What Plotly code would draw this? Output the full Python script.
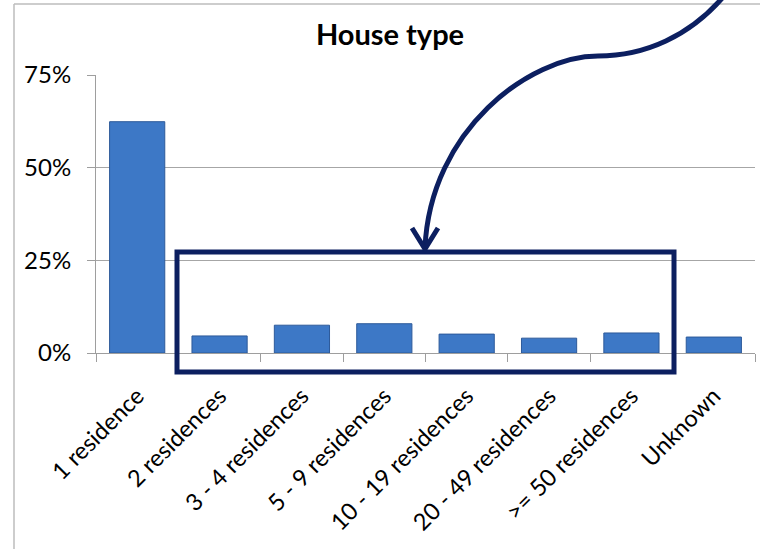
import plotly.graph_objects as go

categories = ["1 residence", "2 residences", "3 - 4 residences", "5 - 9 residences",
              "10 - 19 residences", "20 - 49 residences", ">= 50 residences", "Unknown"]
shares = [62.4, 4.6, 7.5, 7.9, 5.1, 4.0, 5.4, 4.3]
y_ticks = [0, 25, 50, 75]
y_tick_labels = ["0%", "25%", "50%", "75%"]

W, H = 760, 549
ML, MR, MT, MB = 96, 5, 75, 196
PW, PH = W - ML - MR, H - MT - MB

def px(x, y):
    return (x - ML) / PW, (H - MB - y) / PH

def path(cmds):
    out = []
    for c in cmds:
        if isinstance(c, str):
            out.append(c)
        else:
            u, v = px(*c)
            out.append(f"{u:.5f},{v:.5f}")
    return " ".join(out)

FONT = "Lato"
NAVY = "#0c1f60"

fig = go.Figure(go.Bar(
    x=categories, y=shares,
    marker=dict(color="#3d78c6", line=dict(color="#2d5a9a", width=1)),
    width=0.67,
))

shapes = []
# outer chart border
shapes.append(dict(type="line", xref="paper", yref="paper",
                   x0=px(14, 4)[0], y0=px(14, 4)[1], x1=px(14, 560)[0], y1=px(14, 560)[1],
                   line=dict(color="#bdbdbd", width=1.5)))
shapes.append(dict(type="line", xref="paper", yref="paper",
                   x0=px(14, 4)[0], y0=px(14, 4)[1], x1=px(770, 4)[0], y1=px(770, 4)[1],
                   line=dict(color="#bdbdbd", width=1.5)))
# highlight rectangle
r0 = px(177, 252); r1 = px(674, 372)
shapes.append(dict(type="rect", xref="paper", yref="paper",
                   x0=r0[0], y0=r0[1], x1=r1[0], y1=r1[1],
                   line=dict(color=NAVY, width=5)))
# curved arrow
shapes.append(dict(type="path", xref="paper", yref="paper",
                   path=path(["M", (724, -4), "C", (690, 36), (645, 56), (598, 56),
                              "C", (530, 56), (430, 130), (425, 248)]),
                   line=dict(color=NAVY, width=5)))
shapes.append(dict(type="path", xref="paper", yref="paper",
                   path=path(["M", (412, 228), "L", (425, 249), "L", (438, 228)]),
                   line=dict(color=NAVY, width=5)))

fig.update_layout(
    width=W, height=H,
    margin=dict(l=ML, r=MR, t=MT, b=MB),
    paper_bgcolor="white", plot_bgcolor="white",
    font=dict(family=FONT, size=23, color="#000000"),
    title=dict(text="<b>House type</b>", x=390 / W, xref="container", xanchor="center",
               y=1 - 35 / H, yref="container", yanchor="middle",
               font=dict(family=FONT, size=29, color="#000000")),
    showlegend=False,
    shapes=shapes,
    xaxis=dict(showgrid=False, showline=True, linecolor="#9e9e9e", linewidth=1,
               ticks="outside", tickson="boundaries", ticklen=8, tickcolor="#9e9e9e",
               tickangle=-45, ticklabelstandoff=19,
               tickfont=dict(family=FONT, size=23.5), range=[-0.5, 7.5]),
    yaxis=dict(range=[0, 75], tickvals=y_ticks, ticktext=y_tick_labels,
               showgrid=True, gridcolor="#a6a6a6", gridwidth=1,
               showline=True, linecolor="#9e9e9e", linewidth=1,
               ticks="outside", ticklen=8, tickcolor="#9e9e9e",
               ticklabelstandoff=11, zeroline=False,
               tickfont=dict(family=FONT, size=24)),
)

fig.write_html("out.html")
